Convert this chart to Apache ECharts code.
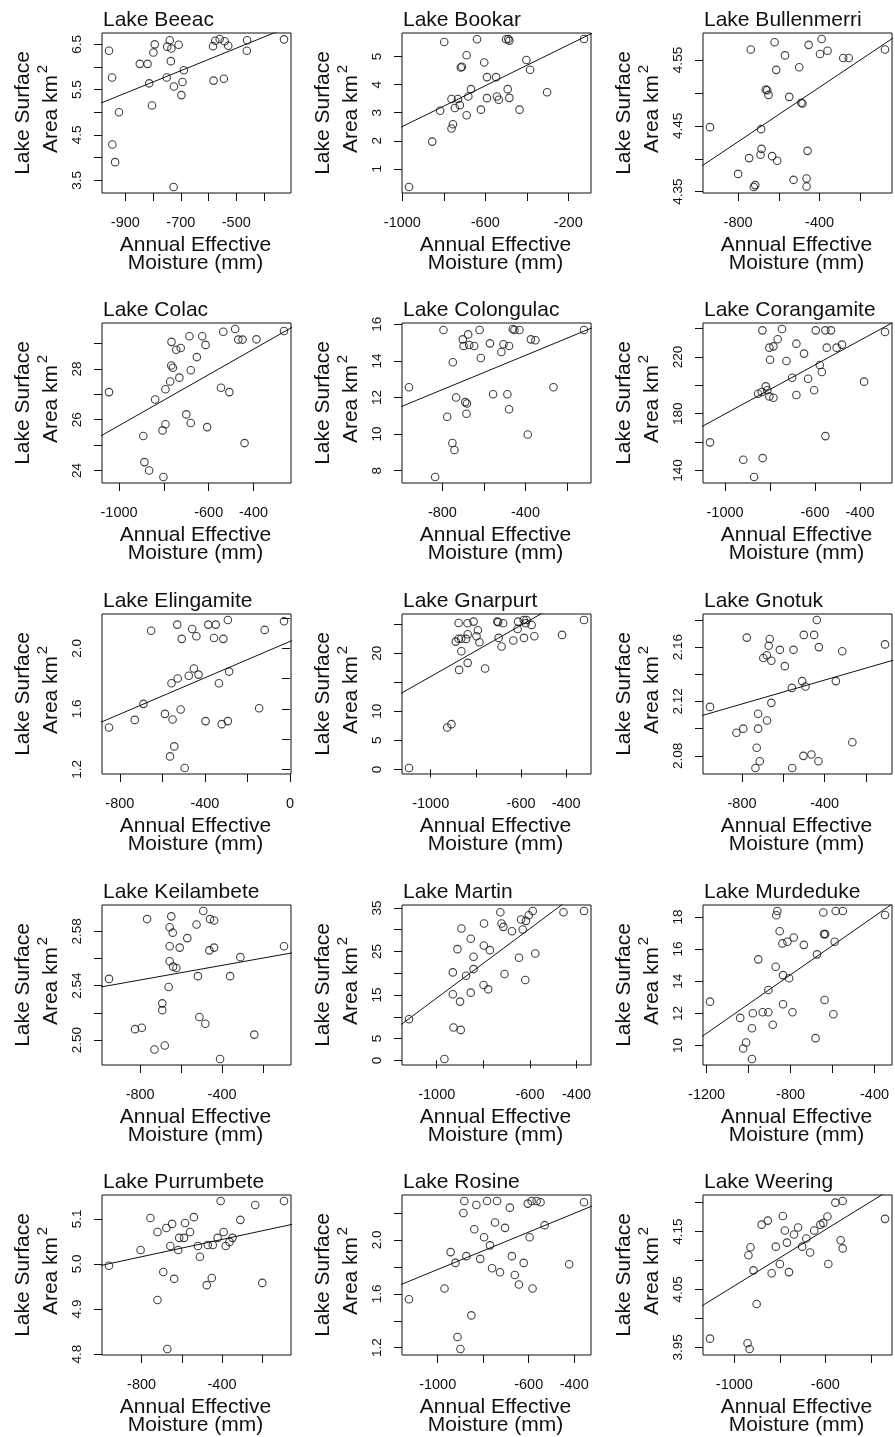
<!DOCTYPE html>
<html><head><meta charset="utf-8">
<script src="https://cdn.jsdelivr.net/npm/echarts@6/dist/echarts.min.js"></script>
<style>html,body{margin:0;padding:0;background:#fff}#c{width:895px;height:1437px}</style>
</head><body><div id="c"></div>
<script>
// ---------- data ----------
const lakeNames = ['Lake Beeac','Lake Bookar','Lake Bullenmerri','Lake Colac','Lake Colongulac','Lake Corangamite',
  'Lake Elingamite','Lake Gnarpurt','Lake Gnotuk','Lake Keilambete','Lake Martin','Lake Murdeduke',
  'Lake Purrumbete','Lake Rosine','Lake Weering'];

const beeacMoisture = [-959,-948,-923,-947,-937,-848,-820,-794,-799,-814,-804,-740,-749,-734,-708,-736,-751,-689,-725,-694,-698,-726,-584,-576,-560,-542,-529,-582,-545,-461,-462,-328];
const beeacArea = [6.36,5.77,5.00,4.29,3.90,6.07,6.07,6.50,6.32,5.64,5.15,6.59,6.45,6.41,6.49,6.13,5.77,5.93,5.57,5.67,5.38,3.35,6.46,6.58,6.62,6.57,6.47,5.70,5.74,6.59,6.36,6.61];
const beeacFit = [[-1010,5.150],[-280,6.961]];

const bookarMoisture = [-968,-856,-818,-798,-763,-756,-763,-747,-732,-723,-718,-713,-690,-690,-682,-669,-640,-621,-605,-592,-592,-548,-544,-535,-500,-489,-484,-492,-484,-435,-402,-384,-302,-124];
const bookarArea = [0.35,1.97,3.07,5.52,3.49,2.59,2.44,3.17,3.49,3.27,4.61,4.64,5.05,2.91,3.58,3.84,5.62,3.11,4.79,4.27,3.52,4.27,3.58,3.46,5.62,5.63,5.57,3.84,3.53,3.11,4.88,4.53,3.73,5.63];
const bookarFit = [[-1040,2.363],[-60,5.924]];

const bullenmerriMoisture = [-938,-800,-746,-738,-723,-716,-687,-685,-690,-664,-657,-651,-633,-608,-621,-613,-570,-549,-528,-500,-490,-484,-459,-464,-464,-454,-398,-390,-361,-284,-257,-79];
const bullenmerriArea = [4.448,4.377,4.401,4.566,4.357,4.360,4.445,4.415,4.406,4.505,4.504,4.497,4.404,4.397,4.577,4.535,4.557,4.494,4.368,4.539,4.485,4.484,4.412,4.370,4.358,4.573,4.559,4.582,4.564,4.553,4.553,4.566];
const bullenmerriFit = [[-1000,4.3845],[-20,4.5874]];

const colacMoisture = [-1045,-892,-887,-866,-839,-802,-806,-793,-793,-772,-767,-760,-766,-745,-725,-731,-700,-680,-686,-680,-653,-629,-614,-607,-545,-535,-508,-482,-468,-449,-440,-387,-264];
const colacArea = [27.09,25.36,24.33,24.0,26.8,23.74,25.58,25.82,27.20,27.51,28.14,28.05,29.07,28.76,28.83,27.66,26.21,25.87,29.29,27.95,28.47,29.29,28.95,25.71,27.26,29.47,27.09,29.58,29.16,29.16,25.08,29.17,29.5];
const colacFit = [[-1110,25.219],[-200,29.786]];

const colongulacMoisture = [-961,-795,-777,-750,-752,-742,-734,-835,-702,-698,-676,-671,-690,-682,-684,-647,-621,-615,-571,-556,-516,-506,-479,-487,-479,-461,-453,-429,-389,-374,-352,-265,-118];
const colongulacArea = [12.56,15.69,10.95,13.93,9.51,9.13,12.0,7.65,15.18,14.82,15.45,14.87,11.75,11.67,11.11,14.82,15.69,14.16,14.96,12.18,14.49,14.91,14.82,12.18,11.36,15.75,15.69,15.69,9.98,15.18,15.13,12.56,15.69];
const colongulacFit = [[-1030,11.355],[-50,15.944]];

const corangamiteMoisture = [-1067,-919,-871,-833,-834,-853,-837,-819,-812,-803,-785,-800,-803,-785,-766,-747,-727,-702,-683,-683,-649,-631,-604,-597,-579,-570,-554,-529,-548,-554,-504,-480,-382,-289];
const corangamiteArea = [159.8,147.5,135.3,148.7,238.8,194.1,195.3,199.3,196.5,192.2,191.3,218.1,226.6,227.5,232.5,239.8,217.2,205.4,193.2,229.4,222.4,204.7,196.5,238.8,214.4,209.4,238.8,238.8,226.6,164.2,226.6,228.7,202.6,237.6];
const corangamiteFit = [[-1120,169.46],[-230,246.44]];

const elingamiteMoisture = [-851,-730,-689,-653,-588,-564,-544,-552,-557,-528,-530,-509,-514,-495,-476,-460,-452,-440,-430,-397,-384,-349,-357,-334,-321,-313,-292,-292,-286,-145,-119,-28];
const elingamiteArea = [1.477,1.527,1.633,2.116,1.567,1.286,1.352,1.530,1.769,1.800,2.156,2.062,1.596,1.209,1.818,2.127,1.866,2.079,1.826,1.519,2.156,2.156,2.068,1.769,1.499,2.062,1.519,2.187,1.846,1.604,2.121,2.178];
const elingamiteFit = [[-910,1.499],[40,2.069]];

const gnarpurtMoisture = [-1096,-927,-908,-876,-889,-877,-865,-874,-864,-837,-836,-843,-836,-810,-791,-797,-784,-759,-705,-701,-679,-699,-686,-634,-615,-613,-588,-576,-579,-587,-553,-541,-418,-321];
const gnarpurtArea = [0.23,7.22,7.79,25.2,22.0,22.5,22.5,17.13,20.34,25.16,23.27,22.46,18.34,25.44,23.95,22.92,21.89,17.36,25.44,25.33,25.16,22.64,21.15,22.18,24.18,25.44,25.73,25.73,25.16,22.64,24.87,22.92,23.15,25.73];
const gnarpurtFit = [[-1160,12.45],[-250,32.54]];

const gnotukMoisture = [-955,-827,-794,-777,-729,-735,-714,-722,-722,-697,-680,-679,-666,-671,-658,-658,-617,-593,-557,-559,-551,-509,-501,-503,-493,-464,-451,-438,-430,-428,-346,-315,-266,-108];
const gnotukArea = [2.116,2.097,2.100,2.167,2.086,2.071,2.076,2.111,2.100,2.152,2.154,2.106,2.166,2.161,2.150,2.119,2.158,2.146,2.071,2.130,2.158,2.135,2.169,2.080,2.131,2.081,2.169,2.180,2.076,2.160,2.135,2.157,2.090,2.162];
const gnotukFit = [[-1020,2.1085],[-40,2.1516]];

const keilambeteMoisture = [-952,-825,-792,-766,-730,-680,-692,-692,-661,-656,-648,-641,-656,-656,-639,-623,-607,-570,-525,-518,-511,-482,-492,-459,-439,-462,-439,-410,-361,-311,-243,-98];
const keilambeteArea = [2.545,2.508,2.509,2.589,2.493,2.496,2.527,2.522,2.539,2.583,2.591,2.579,2.569,2.558,2.554,2.553,2.568,2.575,2.585,2.547,2.517,2.512,2.595,2.589,2.588,2.566,2.568,2.486,2.547,2.561,2.504,2.569];
const keilambeteFit = [[-1030,2.538],[-30,2.5649]];

const martinMoisture = [-1119,-967,-928,-897,-931,-931,-900,-911,-894,-874,-842,-842,-854,-854,-799,-779,-798,-772,-797,-727,-722,-714,-709,-677,-647,-638,-631,-620,-617,-605,-588,-577,-456,-368];
const martinArea = [9.45,0.30,7.54,7.0,20.2,15.17,13.49,25.54,30.27,19.44,20.96,23.79,27.91,15.55,17.30,16.31,26.38,25.31,31.41,34.0,31.41,30.65,19.82,29.66,23.56,32.33,30.04,18.45,32.03,33.32,34.31,24.55,34.0,34.31];
const martinFit = [[-1180,7.145],[-300,42.22]];

const murdedukeMoisture = [-1184,-1040,-1026,-1012,-984,-984,-980,-954,-933,-906,-885,-906,-871,-868,-863,-852,-839,-815,-836,-836,-807,-791,-785,-737,-681,-674,-644,-641,-635,-638,-596,-590,-585,-551,-350];
const murdedukeArea = [12.73,11.72,9.82,10.19,9.16,11.08,12.01,15.36,12.07,12.07,11.29,13.45,14.90,18.10,18.37,17.11,16.35,16.45,12.57,14.38,14.18,12.07,16.72,16.26,10.46,15.67,18.27,16.93,16.93,12.83,11.95,16.45,18.37,18.37,18.12];
const murdedukeFit = [[-1250,10.31],[-290,19.04]];

const purrumbeteMoisture = [-962,-805,-756,-721,-721,-692,-677,-672,-657,-648,-638,-618,-613,-584,-589,-559,-540,-520,-510,-476,-471,-451,-446,-422,-407,-392,-382,-363,-348,-309,-235,-200,-92];
const purrumbeteArea = [4.996,5.031,5.102,4.92,5.071,4.982,5.08,4.811,5.04,5.089,4.967,5.031,5.058,5.091,5.058,5.071,5.104,5.04,5.016,4.953,5.042,4.969,5.042,5.058,5.14,5.071,5.04,5.049,5.058,5.098,5.131,4.958,5.14];
const purrumbeteFit = [[-1030,4.994],[-30,5.090]];

const rosineMoisture = [-1126,-970,-943,-922,-913,-900,-887,-883,-874,-852,-839,-830,-813,-796,-783,-770,-761,-748,-739,-726,-704,-683,-674,-661,-643,-622,-604,-596,-587,-583,-565,-548,-530,-422,-357];
const rosineArea = [1.56,1.64,1.91,1.83,1.28,1.19,2.20,2.29,1.88,1.44,2.08,2.26,1.86,2.02,2.29,1.96,1.79,2.13,2.29,1.76,2.09,2.24,1.88,1.74,1.67,1.83,2.27,2.02,2.29,1.64,2.29,2.28,2.11,1.82,2.28];
const rosineFit = [[-1190,1.649],[-300,2.267]];

const weeringMoisture = [-1107,-942,-933,-938,-929,-916,-902,-880,-853,-836,-818,-800,-787,-778,-769,-760,-738,-720,-702,-684,-667,-649,-622,-609,-591,-587,-556,-533,-524,-524,-338];
const weeringArea = [3.965,3.957,3.947,4.109,4.123,4.083,4.025,4.162,4.169,4.078,4.124,4.094,4.177,4.152,4.131,4.080,4.145,4.157,4.124,4.138,4.114,4.152,4.162,4.165,4.176,4.094,4.200,4.135,4.203,4.121,4.172];
const weeringFit = [[-1170,4.015],[-280,4.231]];

// tick positions and tick labels
const xTicks = [
  [-900,-800,-700,-600,-500,-400], [-1000,-800,-600,-400,-200], [-800,-600,-400,-200],
  [-1000,-800,-600,-400], [-800,-600,-400,-200], [-1000,-800,-600,-400],
  [-800,-600,-400,-200,0], [-1000,-800,-600,-400], [-800,-600,-400,-200],
  [-800,-600,-400,-200], [-1000,-800,-600,-400], [-1200,-1000,-800,-600,-400],
  [-800,-600,-400,-200], [-1000,-800,-600,-400], [-1000,-800,-600,-400]];
const xLabels = [
  ['-900','-700','-500'], ['-1000','-600','-200'], ['-800','-400'],
  ['-1000','-600','-400'], ['-800','-400'], ['-1000','-600','-400'],
  ['-800','-400','0'], ['-1000','-600','-400'], ['-800','-400'],
  ['-800','-400'], ['-1000','-600','-400'], ['-1200','-800','-400'],
  ['-800','-400'], ['-1000','-600','-400'], ['-1000','-600']];
const yTicks = [
  [3.5,4,4.5,5,5.5,6,6.5], [1,2,3,4,5], [4.35,4.40,4.45,4.50,4.55],
  [24,25,26,27,28,29], [8,10,12,14,16], [140,160,180,200,220,240],
  [1.2,1.4,1.6,1.8,2.0,2.2], [0,5,10,15,20,25], [2.08,2.10,2.12,2.14,2.16,2.18],
  [2.50,2.52,2.54,2.56,2.58], [0,5,10,15,20,25,30,35], [10,12,14,16,18],
  [4.8,4.9,5.0,5.1], [1.2,1.4,1.6,1.8,2.0,2.2], [3.95,4.00,4.05,4.10,4.15,4.20]];
const yLabels = [
  ['3.5','4.5','5.5','6.5'], ['1','2','3','4','5'], ['4.35','4.45','4.55'],
  ['24','26','28'], ['8','10','12','14','16'], ['140','180','220'],
  ['1.2','1.6','2.0'], ['0','5','10','20'], ['2.08','2.12','2.16'],
  ['2.50','2.54','2.58'], ['0','5','15','25','35'], ['10','12','14','16','18'],
  ['4.8','4.9','5.0','5.1'], ['1.2','1.6','2.0'], ['3.95','4.05','4.15']];

const xTitle = ['Annual Effective', 'Moisture (mm)'];
const yTitle = ['Lake Surface', 'Area km', '2'];

// ---------- build chart ----------
const moistures = [beeacMoisture,bookarMoisture,bullenmerriMoisture,colacMoisture,colongulacMoisture,corangamiteMoisture,
  elingamiteMoisture,gnarpurtMoisture,gnotukMoisture,keilambeteMoisture,martinMoisture,murdedukeMoisture,
  purrumbeteMoisture,rosineMoisture,weeringMoisture];
const areas = [beeacArea,bookarArea,bullenmerriArea,colacArea,colongulacArea,corangamiteArea,
  elingamiteArea,gnarpurtArea,gnotukArea,keilambeteArea,martinArea,murdedukeArea,
  purrumbeteArea,rosineArea,weeringArea];
const fits = [beeacFit,bookarFit,bullenmerriFit,colacFit,colongulacFit,corangamiteFit,
  elingamiteFit,gnarpurtFit,gnotukFit,keilambeteFit,martinFit,murdedukeFit,
  purrumbeteFit,rosineFit,weeringFit];

const FONT = '"Liberation Sans", Arial, Helvetica, sans-serif';
const INK = '#111';
const colLeft = [102, 402, 703];
const rowTop = [33, 323, 614, 905, 1195];
const W = 189, H = 160;

function rRange(arr) {
  const mn = Math.min(...arr), mx = Math.max(...arr);
  const p = (mx - mn) * 0.04;
  return [mn - p, mx + p];
}
function labelFor(list) {
  return v => {
    const s = list.find(t => Math.abs(parseFloat(t) - v) < 1e-9);
    return s === undefined ? '' : s;
  };
}

const grids = [], xAxes = [], yAxes = [], series = [], graphics = [];
for (let i = 0; i < 15; i++) {
  const r = Math.floor(i / 3), c = i % 3;
  const left = colLeft[c], top = rowTop[r];
  grids.push({left: left, top: top, width: W, height: H, show: true,
    borderColor: INK, borderWidth: 1, backgroundColor: 'transparent', containLabel: false, outerBoundsMode: 'none'});
  const xr = rRange(moistures[i]), yr = rRange(areas[i]);
  xAxes.push({type: 'value', gridIndex: i, min: xr[0], max: xr[1],
    axisLine: {show: false}, splitLine: {show: false},
    axisTick: {show: true, inside: false, length: 8, customValues: xTicks[i], lineStyle: {color: INK, width: 1}},
    axisLabel: {show: true, customValues: xLabels[i].map(parseFloat), formatter: labelFor(xLabels[i]),
      margin: 22, fontSize: 14.5, color: INK, fontFamily: FONT, hideOverlap: false}});
  yAxes.push({type: 'value', gridIndex: i, min: yr[0], max: yr[1],
    axisLine: {show: false}, splitLine: {show: false},
    axisTick: {show: true, inside: false, length: 8, customValues: yTicks[i], lineStyle: {color: INK, width: 1}},
    axisLabel: {show: true, rotate: 90, customValues: yLabels[i].map(parseFloat), formatter: labelFor(yLabels[i]),
      margin: 18, fontSize: 13.5, color: INK, fontFamily: FONT, hideOverlap: false}});
  series.push({type: 'scatter', xAxisIndex: i, yAxisIndex: i,
    data: moistures[i].map((v, k) => [v, areas[i][k]]),
    symbol: 'circle', symbolSize: 7.5, silent: true,
    itemStyle: {color: 'rgba(0,0,0,0)', borderColor: INK, borderWidth: 1.1}});
  series.push({type: 'line', xAxisIndex: i, yAxisIndex: i, data: fits[i], symbol: 'none',
    silent: true, clip: true, lineStyle: {color: INK, width: 1}});

  const cx = left + W / 2 - 1, cy = top + H / 2;
  graphics.push({type: 'text', x: left + 1, y: top - 12.5,
    style: {text: lakeNames[i], font: '21px ' + FONT, fill: INK, align: 'left', verticalAlign: 'middle'}});
  graphics.push({type: 'text', x: cx, y: top + H + 52,
    style: {text: xTitle[0], font: '21px ' + FONT, fill: INK, align: 'center', verticalAlign: 'middle'}});
  graphics.push({type: 'text', x: cx, y: top + H + 70,
    style: {text: xTitle[1], font: '21px ' + FONT, fill: INK, align: 'center', verticalAlign: 'middle'}});
  graphics.push({type: 'text', x: left - 79, y: cy, rotation: Math.PI / 2,
    style: {text: yTitle[0], font: '21px ' + FONT, fill: INK, align: 'center', verticalAlign: 'middle'}});
  graphics.push({type: 'text', x: left - 51, y: cy + 1, rotation: Math.PI / 2,
    style: {text: yTitle[1], font: '21px ' + FONT, fill: INK, align: 'center', verticalAlign: 'middle'}});
  graphics.push({type: 'text', x: left - 59, y: cy - 44, rotation: Math.PI / 2,
    style: {text: yTitle[2], font: '15px ' + FONT, fill: INK, align: 'center', verticalAlign: 'middle'}});
}

const chart = echarts.init(document.getElementById('c'), null, {renderer: 'canvas'});
chart.setOption({
  backgroundColor: '#fff',
  animation: false,
  grid: grids, xAxis: xAxes, yAxis: yAxes, series: series,
  graphic: {elements: graphics}
});
</script>
</body></html>
